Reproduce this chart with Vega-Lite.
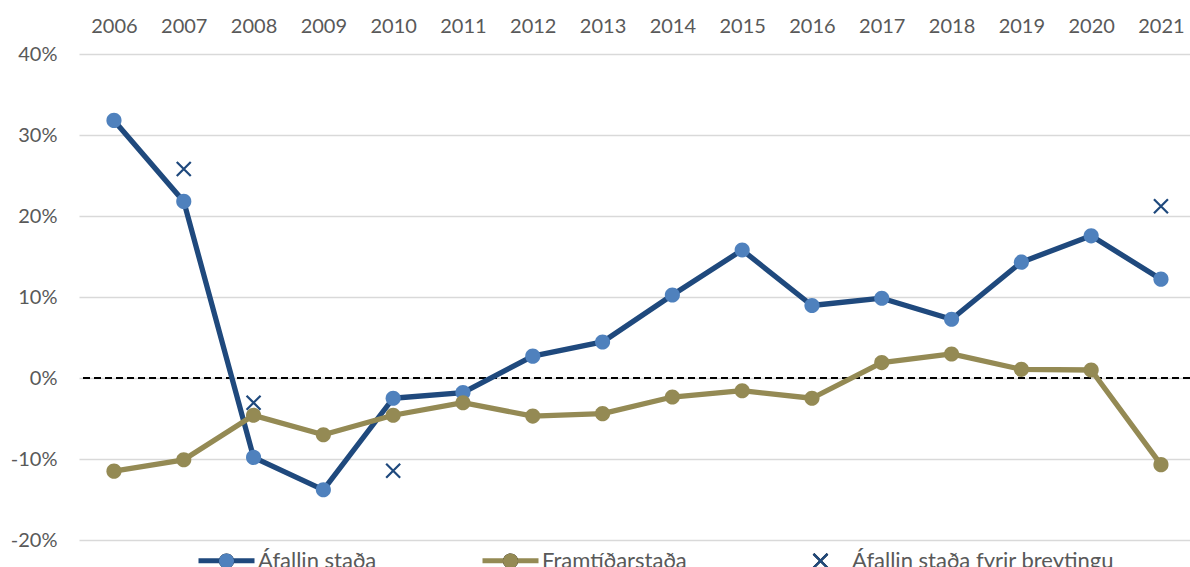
{
  "$schema": "https://vega.github.io/schema/vega-lite/v6.json",
  "autosize": {"type": "none"},
  "width": 1111,
  "height": 486,
  "padding": {"left": 79, "top": 54, "right": 0, "bottom": 27},
  "background": "white",
  "config": {
    "view": {"stroke": null},
    "font": "Lato",
    "axis": {"labelFont": "Lato", "labelFontSize": 20, "labelColor": "#595959", "domain": false, "ticks": false, "tickSize": 0, "title": null}
  },
  "data": {
    "values": [
      {"year": 2006, "series": "Áfallin staða", "value": 31.8},
      {"year": 2007, "series": "Áfallin staða", "value": 21.8},
      {"year": 2008, "series": "Áfallin staða", "value": -9.8},
      {"year": 2009, "series": "Áfallin staða", "value": -13.8},
      {"year": 2010, "series": "Áfallin staða", "value": -2.5},
      {"year": 2011, "series": "Áfallin staða", "value": -1.8},
      {"year": 2012, "series": "Áfallin staða", "value": 2.7},
      {"year": 2013, "series": "Áfallin staða", "value": 4.45},
      {"year": 2014, "series": "Áfallin staða", "value": 10.25},
      {"year": 2015, "series": "Áfallin staða", "value": 15.8},
      {"year": 2016, "series": "Áfallin staða", "value": 8.95},
      {"year": 2017, "series": "Áfallin staða", "value": 9.85},
      {"year": 2018, "series": "Áfallin staða", "value": 7.25},
      {"year": 2019, "series": "Áfallin staða", "value": 14.3},
      {"year": 2020, "series": "Áfallin staða", "value": 17.55},
      {"year": 2021, "series": "Áfallin staða", "value": 12.2},
      {"year": 2006, "series": "Framtíðarstaða", "value": -11.5},
      {"year": 2007, "series": "Framtíðarstaða", "value": -10.1},
      {"year": 2008, "series": "Framtíðarstaða", "value": -4.6},
      {"year": 2009, "series": "Framtíðarstaða", "value": -7.0},
      {"year": 2010, "series": "Framtíðarstaða", "value": -4.6},
      {"year": 2011, "series": "Framtíðarstaða", "value": -3.05},
      {"year": 2012, "series": "Framtíðarstaða", "value": -4.7},
      {"year": 2013, "series": "Framtíðarstaða", "value": -4.4},
      {"year": 2014, "series": "Framtíðarstaða", "value": -2.35},
      {"year": 2015, "series": "Framtíðarstaða", "value": -1.57},
      {"year": 2016, "series": "Framtíðarstaða", "value": -2.5},
      {"year": 2017, "series": "Framtíðarstaða", "value": 1.9},
      {"year": 2018, "series": "Framtíðarstaða", "value": 2.97},
      {"year": 2019, "series": "Framtíðarstaða", "value": 1.07},
      {"year": 2020, "series": "Framtíðarstaða", "value": 0.99},
      {"year": 2021, "series": "Framtíðarstaða", "value": -10.7},
      {"year": 2007, "series": "Áfallin staða fyrir breytingu", "value": 25.8},
      {"year": 2008, "series": "Áfallin staða fyrir breytingu", "value": -3.05},
      {"year": 2010, "series": "Áfallin staða fyrir breytingu", "value": -11.45},
      {"year": 2021, "series": "Áfallin staða fyrir breytingu", "value": 21.2}
    ]
  },
  "encoding": {
    "x": {
      "field": "year", "type": "quantitative",
      "scale": {"domain": [2005.499, 2021.416], "nice": false, "zero": false},
      "axis": {"orient": "top", "values": [2006, 2007, 2008, 2009, 2010, 2011, 2012, 2013, 2014, 2015, 2016, 2017, 2018, 2019, 2020, 2021], "format": "d", "grid": false, "labelBaseline": "alphabetic", "labelPadding": 22, "labelFlush": false, "labelOverlap": false}
    },
    "y": {
      "field": "value", "type": "quantitative",
      "scale": {"domain": [-20, 40], "nice": false, "zero": false},
      "axis": {"values": [-20, -10, 0, 10, 20, 30, 40], "labelExpr": "datum.value + '%'", "grid": true, "gridColor": "#D9D9D9", "gridWidth": 1.5, "labelPadding": 22, "labelBaseline": "middle"}
    }
  },
  "layer": [
    {
      "mark": {"type": "rule", "color": "#000000", "strokeWidth": 2, "strokeDash": [7, 4]},
      "encoding": {"y": {"datum": 0}, "x": null}
    },
    {
      "transform": [{"filter": "datum.series !== 'Áfallin staða fyrir breytingu'"}],
      "mark": {"type": "line", "strokeWidth": 5.3, "strokeJoin": "round", "strokeCap": "butt"},
      "encoding": {
        "stroke": {
          "field": "series", "type": "nominal",
          "scale": {"domain": ["Áfallin staða", "Framtíðarstaða", "Áfallin staða fyrir breytingu"], "range": ["#1F497D", "#948A54", "transparent"]},
          "legend": {"orient": "none", "legendX": 117, "legendY": 476, "direction": "horizontal", "title": null, "symbolType": "M-1,0L1,0", "symbolSize": 3136, "symbolStrokeWidth": 5, "labelFont": "Lato", "labelFontSize": 22, "labelColor": "#595959", "labelOffset": 1, "columnPadding": 95, "padding": 0, "labelLimit": 500}
        }
      }
    },
    {
      "mark": {"type": "point", "filled": true, "opacity": 1, "size": 3136, "strokeWidth": 0},
      "encoding": {
        "fill": {
          "field": "series", "type": "nominal",
          "sort": ["Áfallin staða", "Framtíðarstaða", "Áfallin staða fyrir breytingu"],
          "scale": {"range": ["#4F81BD", "#948A54", "#1F497D"]},
          "legend": {"orient": "none", "legendX": 117, "legendY": 476, "direction": "horizontal", "title": null, "symbolSize": 3136, "symbolStrokeWidth": 5, "symbolStrokeColor": "transparent", "symbolOpacity": 1, "labelFont": "Lato", "labelFontSize": 22, "labelColor": "#595959", "labelOpacity": 0, "labelOffset": 1, "columnPadding": 103, "padding": 0, "labelLimit": 500,
            "encode": {"symbols": {"update": {"shape": {"scale": "shape", "field": "value"}, "stroke": {"value": "transparent"}}}}}
        },
        "shape": {
          "field": "series", "type": "nominal",
          "sort": ["Áfallin staða", "Framtíðarstaða", "Áfallin staða fyrir breytingu"],
          "scale": {"range": [
            "M0.27,0A0.27,0.27,0,1,1,-0.27,0A0.27,0.27,0,1,1,0.27,0Z",
            "M0.27,0A0.27,0.27,0,1,1,-0.27,0A0.27,0.27,0,1,1,0.27,0Z",
            "M-0.222,-0.278L0.278,0.222L0.222,0.278L-0.278,-0.222ZM-0.278,0.222L0.222,-0.278L0.278,-0.222L-0.222,0.278Z"
          ]},
          "legend": {"orient": "none", "legendX": 117, "legendY": 476, "direction": "horizontal", "title": null, "symbolSize": 3136, "symbolStrokeWidth": 5, "symbolStrokeColor": "transparent", "symbolOpacity": 1, "labelFont": "Lato", "labelFontSize": 22, "labelColor": "#595959", "labelOpacity": 0, "labelOffset": 1, "columnPadding": 103, "padding": 0, "labelLimit": 500,
            "encode": {"symbols": {"update": {"shape": {"scale": "shape", "field": "value"}, "stroke": {"value": "transparent"}}}}}
        }
      }
    }
  ]
}
